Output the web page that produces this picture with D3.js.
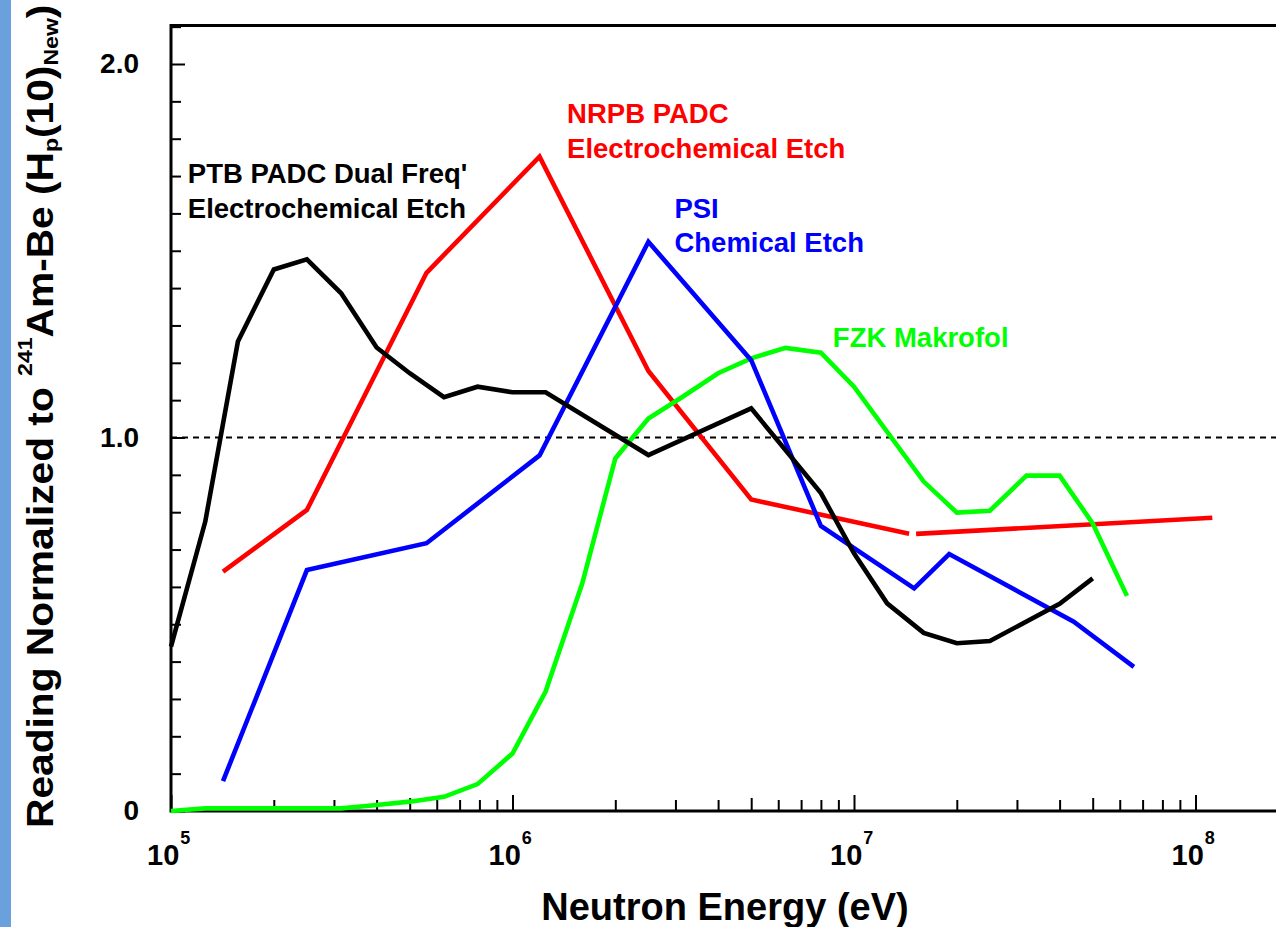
<!DOCTYPE html>
<html>
<head>
<meta charset="utf-8">
<script src="https://cdn.jsdelivr.net/npm/d3@7"></script>
<style>
  html, body { margin: 0; padding: 0; background: #fff; }
  svg { display: block; font-family: "Liberation Sans", Arial, Helvetica, sans-serif; font-weight: bold; }
</style>
</head>
<body>
<svg id="chart" width="1276" height="927"></svg>
<script>
// ---------- data ----------
const ptbEnergy = [1e5, 1.26e5, 1.57e5, 2e5, 2.5e5, 3.15e5, 4e5, 5e5, 6.3e5, 7.9e5, 1e6, 1.25e6, 2.5e6, 5e6, 8e6, 1e7, 1.25e7, 1.6e7, 2e7, 2.5e7, 4e7, 5e7];
const ptbValue  = [0.44, 0.775, 1.257, 1.45, 1.477, 1.386, 1.241, 1.172, 1.108, 1.136, 1.121, 1.121, 0.953, 1.078, 0.851, 0.69, 0.556, 0.477, 0.449, 0.455, 0.555, 0.623];

const nrpbEnergy  = [1.42e5, 2.5e5, 5.6e5, 1.2e6, 2.5e6, 5e6, 1.45e7];
const nrpbValue   = [0.641, 0.806, 1.441, 1.752, 1.178, 0.834, 0.742];
const nrpbEnergy2 = [1.52e7, 1.12e8];
const nrpbValue2  = [0.742, 0.785];

const psiEnergy = [1.42e5, 2.5e5, 5.6e5, 1.2e6, 2.5e6, 5e6, 8e6, 1.5e7, 1.9e7, 4.4e7, 6.6e7];
const psiValue  = [0.080, 0.645, 0.717, 0.952, 1.524, 1.207, 0.763, 0.596, 0.688, 0.507, 0.386];

const fzkEnergy = [1e5, 1.26e5, 3.15e5, 4e5, 5e5, 6.3e5, 7.9e5, 1e6, 1.25e6, 1.6e6, 2e6, 2.5e6, 3.15e6, 4e6, 5e6, 6.3e6, 8e6, 1e7, 1.6e7, 2e7, 2.5e7, 3.2e7, 4e7, 5e7, 6.3e7];
const fzkValue  = [0.0, 0.007, 0.007, 0.016, 0.025, 0.038, 0.072, 0.154, 0.32, 0.609, 0.944, 1.051, 1.109, 1.172, 1.212, 1.240, 1.227, 1.136, 0.882, 0.799, 0.804, 0.898, 0.898, 0.770, 0.576];

const referenceLevel = 1.0;
const yMajorTicks = [0, 1.0, 2.0];
const yMajorLabels = ["0", "1.0", "2.0"];
const yMinorTicks = [0.1,0.2,0.3,0.4,0.5,0.6,0.7,0.8,0.9,1.1,1.2,1.3,1.4,1.5,1.6,1.7,1.8,1.9,2.1];
const xDecades = [1e5, 1e6, 1e7, 1e8];
const xDecadeExp = ["5", "6", "7", "8"];

const seriesLabels = [
  {lines: ["PTB PADC Dual Freq'", "Electrochemical Etch"], color: "#000000", x: 1.12e5, y: 1.681},
  {lines: ["NRPB PADC", "Electrochemical Etch"], color: "#ff0000", x: 1.445e6, y: 1.842},
  {lines: ["PSI", "Chemical Etch"], color: "#0000ff", x: 2.98e6, y: 1.588},
  {lines: ["FZK Makrofol"], color: "#00ff00", x: 8.67e6, y: 1.243}
];

// ---------- layout ----------
const W = 1276, H = 927;
const svg = d3.select("#chart");
const x = d3.scaleLog().domain([1e5, 1e8]).range([171, 1195.5]);
const y = d3.scaleLinear().domain([0, 2]).range([811, 64]);
const x0 = 171, yBottom = y(0), yTop = 25.5;

// left blue strip
svg.append("rect").attr("x", 0).attr("y", 0).attr("width", 11).attr("height", H).attr("fill", "#6aa1dd");

// frame lines
svg.append("line").attr("x1", x0).attr("x2", W).attr("y1", yTop).attr("y2", yTop)
  .attr("stroke", "#000").attr("stroke-width", 3);
svg.append("line").attr("x1", x0).attr("x2", W).attr("y1", yBottom).attr("y2", yBottom)
  .attr("stroke", "#000").attr("stroke-width", 3);
svg.append("line").attr("x1", x0).attr("x2", x0).attr("y1", yTop - 1.5).attr("y2", yBottom + 1.5)
  .attr("stroke", "#000").attr("stroke-width", 3);

// x ticks (inward)
const xMinor = [];
for (let d = 1e5; d < 1e8 + 1; d *= 10) for (let k = 2; k <= 9; k++) if (d * k < 1.8e8) xMinor.push(d * k);
const gx = svg.append("g").attr("transform", `translate(0,${yBottom})`);
gx.append("g").call(d3.axisBottom(x).tickValues(xMinor.filter(v => !/^5/.test(String(v)))).tickSize(-11).tickSizeOuter(0).tickFormat(""));
gx.append("g").call(d3.axisBottom(x).tickValues(xMinor.filter(v => /^5/.test(String(v)))).tickSize(-13).tickSizeOuter(0).tickFormat(""));
gx.append("g").call(d3.axisBottom(x).tickValues(xDecades).tickSize(-16).tickSizeOuter(0).tickFormat(""));
gx.selectAll(".domain").remove();
gx.selectAll(".tick line").attr("stroke", "#000").attr("stroke-width", 2);

// x labels 10^n
const xl = svg.append("g");
xDecades.forEach((d, i) => {
  const t = xl.append("text").attr("x", x(d) - 24).attr("y", 865)
    .attr("font-size", 29).attr("fill", "#000");
  t.append("tspan").text("10");
  t.append("tspan").attr("font-size", 18).attr("dy", -21).attr("dx", 1).text(xDecadeExp[i]);
});

// y ticks (inward)
const gy = svg.append("g").attr("transform", `translate(${x0},0)`);
gy.append("g").call(d3.axisLeft(y).tickValues(yMinorTicks).tickSize(-10).tickSizeOuter(0).tickFormat(""));
gy.append("g").call(d3.axisLeft(y).tickValues(yMajorTicks).tickSize(-14).tickSizeOuter(0).tickFormat(""));
gy.selectAll(".domain").remove();
gy.selectAll(".tick line").attr("stroke", "#000").attr("stroke-width", 2);

// y labels
yMajorTicks.forEach((v, i) => {
  svg.append("text").attr("x", 139).attr("y", y(v) + 9).attr("text-anchor", "end")
    .attr("font-size", 28).attr("fill", "#000").text(yMajorLabels[i]);
});

// reference dashed line
svg.append("line").attr("x1", x0).attr("x2", W).attr("y1", y(referenceLevel)).attr("y2", y(referenceLevel))
  .attr("stroke", "#000").attr("stroke-width", 2).attr("stroke-dasharray", "6,5");

// curves
const line = d3.line().x(d => x(d[0])).y(d => y(d[1]));
const zip = (a, b) => a.map((v, i) => [v, b[i]]);
const curves = [
  {data: zip(nrpbEnergy, nrpbValue), color: "#ff0000"},
  {data: zip(nrpbEnergy2, nrpbValue2), color: "#ff0000"},
  {data: zip(fzkEnergy, fzkValue), color: "#00ff00"},
  {data: zip(psiEnergy, psiValue), color: "#0000ff"},
  {data: zip(ptbEnergy, ptbValue), color: "#000000"}
];
curves.forEach(c => {
  svg.append("path").attr("d", line(c.data)).attr("fill", "none")
    .attr("stroke", c.color).attr("stroke-width", 4.6).attr("stroke-linejoin", "miter");
});

// series labels
seriesLabels.forEach(s => {
  const t = svg.append("text").attr("x", x(s.x)).attr("y", y(s.y)).attr("font-size", 27.5).attr("fill", s.color);
  s.lines.forEach((l, i) => t.append("tspan").attr("x", x(s.x)).attr("dy", i === 0 ? 0 : 34.5).text(l));
});

// axis titles
svg.append("text").attr("x", 725).attr("y", 920).attr("text-anchor", "middle")
  .attr("font-size", 38).attr("fill", "#000").text("Neutron Energy (eV)");

const yt = svg.append("text").attr("transform", "translate(53,828) rotate(-90) scale(1.1,1)")
  .attr("font-size", 37).attr("fill", "#000");
yt.append("tspan").text("Reading Normalized to ");
yt.append("tspan").attr("font-size", 21).attr("dy", -21).text("241");
yt.append("tspan").attr("dy", 21).text("Am-Be (H");
yt.append("tspan").attr("font-size", 21).attr("dy", 5).text("p");
yt.append("tspan").attr("dy", -5).text("(10)");
yt.append("tspan").attr("font-size", 21).attr("dy", 5).text("New");
yt.append("tspan").attr("dy", -5).text(")");
</script>
</body>
</html>
